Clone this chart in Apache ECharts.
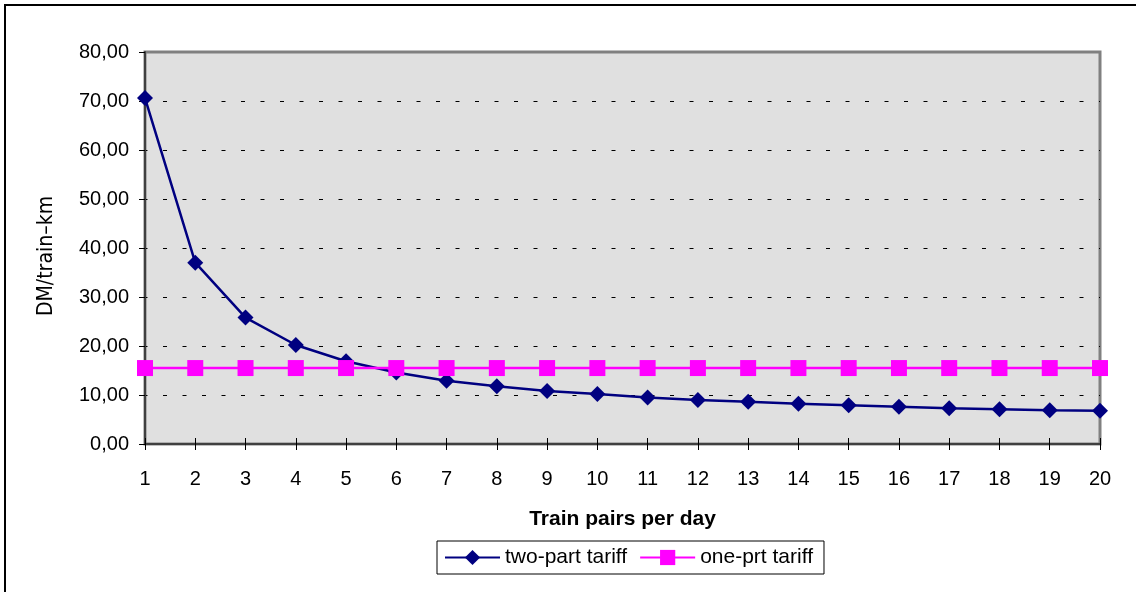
<!DOCTYPE html>
<html>
<head>
<meta charset="utf-8">
<script src="https://cdn.jsdelivr.net/npm/echarts@6/dist/echarts.min.js"></script>
<style>
  html, body { margin: 0; padding: 0; background: #ffffff; }
  #chart { width: 1136px; height: 592px; }
</style>
</head>
<body>
<div id="chart"></div>
<script>
// Train pairs per day (x categories)
const trainPairs = ['1','2','3','4','5','6','7','8','9','10','11','12','13','14','15','16','17','18','19','20'];
// Cost per train-km, DM
const twoPartTariff = [70.6, 37.0, 25.8, 20.2, 16.9, 14.6, 12.9, 11.8, 10.8, 10.2, 9.5, 9.0, 8.6, 8.2, 7.9, 7.6, 7.3, 7.1, 6.9, 6.8];
const onePrtTariff  = [15.5, 15.5, 15.5, 15.5, 15.5, 15.5, 15.5, 15.5, 15.5, 15.5, 15.5, 15.5, 15.5, 15.5, 15.5, 15.5, 15.5, 15.5, 15.5, 15.5];
// Value axis range
const yMin = 0, yMax = 80, yStep = 10;
const yTitle = 'DM/train–km';

const FONT = "'Liberation Sans', Arial, sans-serif";
const chart = echarts.init(document.getElementById('chart'), null, { renderer: 'canvas' });

chart.setOption({
  animation: false,
  backgroundColor: '#ffffff',
  textStyle: { fontFamily: FONT },
  graphic: [{
    type: 'rect', z: -10, silent: true,
    shape: { x: 5, y: 5, width: 1300, height: 800 },
    style: { fill: null, stroke: '#000000', lineWidth: 2 }
  }, {
    // vertical value-axis title in a narrow face
    type: 'text', silent: true,
    x: 46, y: 256, rotation: Math.PI / 2, scaleX: 0.86,
    style: {
      text: yTitle, fill: '#000000',
      font: "22px 'DejaVu Sans', sans-serif",
      align: 'center', verticalAlign: 'middle'
    }
  }],
  grid: {
    left: 145, right: 36, top: 52, bottom: 148,
    show: true, backgroundColor: '#e0e0e0',
    borderColor: '#808080', borderWidth: 3
  },
  legend: {
    left: 437, top: 541,
    padding: [6, 11, 6, 7],
    itemGap: 12, itemWidth: 55, itemHeight: 19,
    backgroundColor: '#ffffff', borderColor: '#000000', borderWidth: 1, borderRadius: 0,
    textStyle: { fontFamily: FONT, fontSize: 21, color: '#000000' },
    data: ['two-part tariff', 'one-prt tariff']
  },
  xAxis: [{
    type: 'category', data: trainPairs, boundaryGap: false, position: 'bottom',
    name: 'Train pairs per day', nameLocation: 'middle', nameGap: 65,
    nameTextStyle: { fontFamily: FONT, fontSize: 21, fontWeight: 'bold', color: '#000000' },
    axisLine: { show: true, lineStyle: { color: '#404040', width: 2 } },
    axisTick: { show: true, inside: false, length: 6, alignWithLabel: true, lineStyle: { color: '#000000', width: 1 } },
    axisLabel: { margin: 25, fontSize: 20, color: '#000000', fontFamily: FONT, interval: 0 },
    splitLine: { show: false }
  }, {
    type: 'category', data: trainPairs, boundaryGap: false, position: 'bottom', offset: 0,
    axisLine: { show: false },
    axisTick: { show: true, inside: true, length: 6, lineStyle: { color: '#000000', width: 1 } },
    axisLabel: { show: false },
    splitLine: { show: false }
  }],
  yAxis: {
    type: 'value', min: yMin, max: yMax, interval: yStep,
    axisLine: { show: true, lineStyle: { color: '#404040', width: 2 } },
    axisTick: { show: true, inside: false, length: 6, lineStyle: { color: '#000000', width: 1 } },
    axisLabel: {
      margin: 16, fontSize: 20, color: '#000000', fontFamily: FONT,
      formatter: v => v.toFixed(2).replace('.', ',')
    },
    splitLine: {
      show: true, showMinLine: false, showMaxLine: false,
      lineStyle: { color: '#000000', width: 1, type: [4, 15.5], dashOffset: 1.5 }
    }
  },
  series: [{
    name: 'two-part tariff', type: 'line', data: twoPartTariff,
    xAxisIndex: 0, yAxisIndex: 0,
    symbol: 'diamond', symbolSize: 16, showAllSymbol: true,
    lineStyle: { color: '#000080', width: 2.5 },
    itemStyle: { color: '#000080', borderWidth: 0 },
    z: 3
  }, {
    name: 'one-prt tariff', type: 'line', data: onePrtTariff,
    xAxisIndex: 0, yAxisIndex: 0,
    symbol: 'rect', symbolSize: 16, showAllSymbol: true,
    lineStyle: { color: '#ff00ff', width: 2.5 },
    itemStyle: { color: '#ff00ff', borderWidth: 0 },
    z: 4
  }]
});
</script>
</body>
</html>
